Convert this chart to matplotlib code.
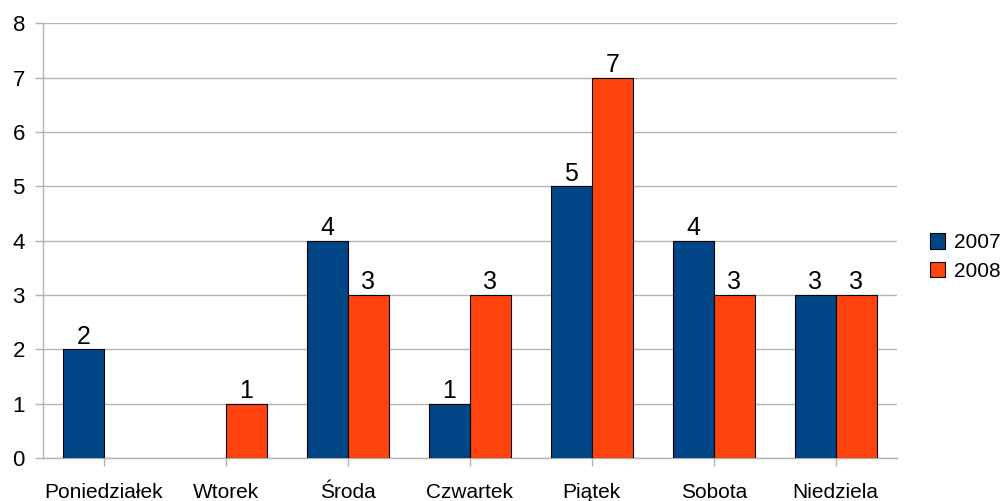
import matplotlib
matplotlib.use("Agg")
import matplotlib.pyplot as plt
import numpy as np
from matplotlib.patches import Patch

plt.rcParams['font.family'] = ['Liberation Sans', 'DejaVu Sans']

categories = ["Poniedziałek", "Wtorek", "Środa", "Czwartek", "Piątek", "Sobota", "Niedziela"]
series_names = ["2007", "2008"]
values_2007 = [2, 0, 4, 1, 5, 4, 3]
values_2008 = [0, 1, 3, 3, 7, 3, 3]
yticks = [0, 1, 2, 3, 4, 5, 6, 7, 8]

colors = ["#004586", "#ff420e"]
grid_color = "#b3b3b3"

fig = plt.figure(figsize=(10.02, 5.01), dpi=100)
ax = fig.add_axes([0.0429, 0.0858, 0.852, 0.868])

x = np.arange(len(categories))
w = 0.336
for i, (vals, col) in enumerate(zip([values_2007, values_2008], colors)):
    xs = x + (i - 0.5) * w
    for xi, v in zip(xs, vals):
        if v > 0:
            ax.bar(xi, v, width=w, color=col, edgecolor="black", linewidth=0.8, zorder=3)
            ax.annotate(str(v), (xi, v), xytext=(0, 0.5), textcoords="offset points",
                        ha="center", va="bottom", fontsize=18, zorder=4)

ax.set_xlim(-0.5, len(categories) - 0.5)
ax.set_ylim(0, 8)
ax.set_yticks(yticks)
ax.set_yticklabels([str(t) for t in yticks], fontsize=16)
ax.set_xticks(x)
ax.set_xticklabels(categories, fontsize=15)
ax.yaxis.grid(True, color=grid_color, linewidth=1, zorder=0)
ax.set_axisbelow(True)
for s in ["top", "right"]:
    ax.spines[s].set_visible(False)
for s in ["left", "bottom"]:
    ax.spines[s].set_color(grid_color)
    ax.spines[s].set_linewidth(1)
ax.tick_params(axis="both", color=grid_color, length=6, width=1)
ax.tick_params(axis="x", pad=12)
ax.tick_params(axis="y", pad=7)

handles = [Patch(facecolor=c, edgecolor="black", linewidth=0.8) for c in colors]
fig.legend(handles, series_names, loc="center left", bbox_to_anchor=(0.928, 0.487),
           frameon=False, fontsize=15, handlelength=0.75, handleheight=0.75,
           handletextpad=0.4, labelspacing=0.45, borderaxespad=0, borderpad=0)

fig.savefig("out.png", dpi=100)
